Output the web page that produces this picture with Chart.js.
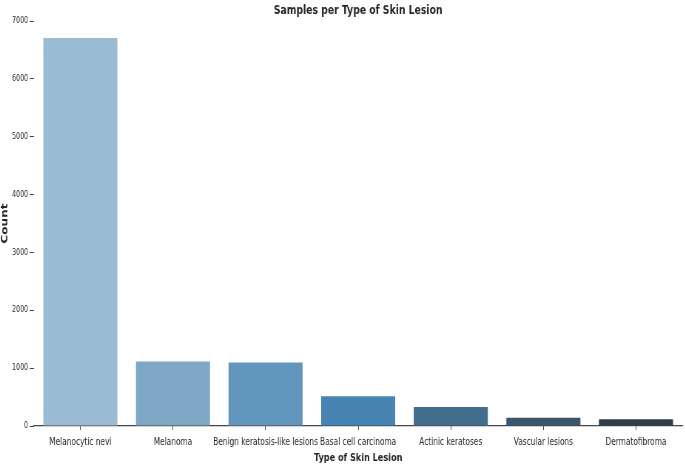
<!DOCTYPE html>
<html>
<head>
<meta charset="utf-8">
<script src="https://cdn.jsdelivr.net/npm/chart.js@4"></script>
<style>
    html, body { margin: 0; padding: 0; background: #fff; overflow: hidden; }
    #wrap { width: 685px; height: 467px; overflow: hidden; }
    /* the reference is a horizontally squeezed figure, so draw wide and squeeze */
    #lesionChart { display: block; transform: scaleX(0.74); transform-origin: 0 0; }
</style>
</head>
<body>
<div id="wrap"><canvas id="lesionChart" width="926" height="467"></canvas></div>
<script>
    const lesionTypes = [
        'Melanocytic nevi',
        'Melanoma',
        'Benign keratosis-like lesions',
        'Basal cell carcinoma',
        'Actinic keratoses',
        'Vascular lesions',
        'Dermatofibroma',
    ];
    const sampleCounts = [6705, 1113, 1099, 514, 327, 142, 115];
    const barColors = ['#9abbd4', '#7fa7c6', '#6296bd', '#4784b1', '#426e8e', '#3c576c', '#2f3d47'];
    const yTicks = [0, 1000, 2000, 3000, 4000, 5000, 6000, 7000];

    const textColor = '#262626';
    const fontFamily = 'DejaVu Sans';

    const ctx = document.getElementById('lesionChart').getContext('2d');

    new Chart(ctx, {
        type: 'bar',
        data: {
            labels: lesionTypes,
            datasets: [{
                label: 'Count',
                data: sampleCounts,
                backgroundColor: barColors,
                borderWidth: 0,
                barPercentage: 0.8,
                categoryPercentage: 1.0,
            }],
        },
        options: {
            responsive: false,
            devicePixelRatio: 1,
            animation: false,
            layout: {
                padding: { left: 0, right: 4, top: 0, bottom: 0 },
            },
            plugins: {
                legend: { display: false },
                tooltip: { enabled: false },
                title: {
                    display: true,
                    fullSize: false, // centre over the plot area, like the reference
                    text: 'Samples per Type of Skin Lesion',
                    color: textColor,
                    font: { family: fontFamily, size: 12.5, weight: 'bold' },
                    padding: { top: 3, bottom: 3 },
                },
            },
            scales: {
                x: {
                    grid: {
                        offset: false,
                        drawOnChartArea: false,
                        drawTicks: true,
                        tickLength: 4,
                        color: '#444',
                    },
                    border: { display: true, color: '#444', width: 1.2 },
                    ticks: {
                        color: textColor,
                        padding: 6,
                        maxRotation: 0,
                        autoSkip: false,
                        font: { family: fontFamily, size: 10 },
                    },
                    title: {
                        display: true,
                        text: 'Type of Skin Lesion',
                        color: textColor,
                        font: { family: fontFamily, size: 11, weight: 'bold' },
                        padding: { top: 0, bottom: 2.5 },
                    },
                    afterFit: (scale) => { scale.height = 41; },
                },
                y: {
                    min: 0,
                    max: 7000,
                    afterBuildTicks: (scale) => {
                        scale.ticks = yTicks.map(v => ({ value: v }));
                    },
                    grid: {
                        drawOnChartArea: false,
                        drawTicks: true,
                        tickLength: 6,
                        color: '#444',
                    },
                    border: { display: false },
                    ticks: {
                        color: textColor,
                        padding: 2,
                        font: { family: fontFamily, size: 8.5 },
                        callback: (value) => String(value),
                    },
                    title: {
                        display: true,
                        text: 'Count',
                        color: textColor,
                        font: { family: fontFamily, size: 12, weight: 'bold' },
                        padding: { top: 0, bottom: 0 },
                    },
                    afterFit: (scale) => { scale.width = 46; },
                },
            },
        },
    });
</script>
</body>
</html>
